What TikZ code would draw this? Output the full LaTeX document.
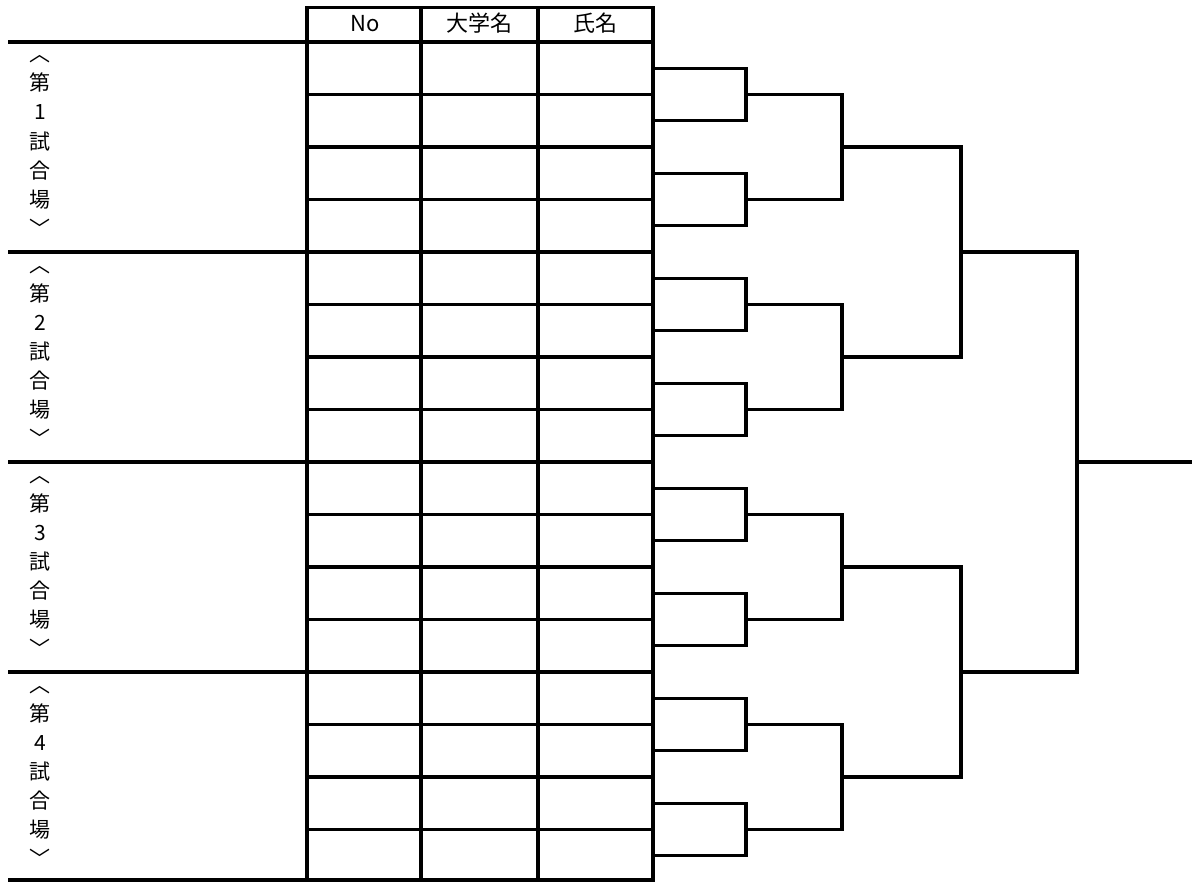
\documentclass[tikz,border=0pt]{standalone}
\usepackage{fontspec}
\setmainfont{Noto Sans CJK JP}
\begin{document}
\begin{tikzpicture}[x=1pt,y=-1pt,
  gridline/.style={line width=3.2pt,line cap=rect},
  groupline/.style={line width=4.5pt},
  bracket/.style={line width=3.2pt,line cap=rect,line join=miter},
  hdr/.style={font=\fontsize{22}{22}\selectfont,inner sep=0pt,anchor=base},
  lbl/.style={font=\fontsize{21}{21}\selectfont,inner sep=0pt,text height=0.8em,text depth=0.2em}]
\useasboundingbox (0,0) rectangle (1192,883);
% table grid
\draw[gridline] (307,7.5) -- (653,7.5);
\foreach \x in {307,421,538,653} \draw[gridline] (\x,7.5) -- (\x,880);
\foreach \g in {0,...,3} \foreach \i in {1,2,3}
  \draw[gridline] (307,{42+210*\g+52.5*\i}) -- (653,{42+210*\g+52.5*\i});
\foreach \y in {42,252,462,672,880} \draw[groupline] (8,\y) -- (655,\y);
% header
\node[hdr] (hNo)   at (365,31.5)   {No};
\node[hdr] (hUni)  at (479.5,31.5) {大学名};
\node[hdr] (hName) at (595.5,31.5) {氏名};
% side labels
\foreach \g/\d in {0/1,1/2,2/3,3/4}
  \foreach \c [count=\k from 0] in {︿,第,\d,試,合,場,﹀}
    \node[lbl] (L\g-\k) at (40,{42+210*\g+104+(\k-3)*29}) {\c};
% entry coordinates (row centres at table edge)
\foreach \g in {0,...,3} \foreach \i in {0,...,3}
  \coordinate (e\g\i) at (653,{42+210*\g+52.5*\i+26.25});
% junctions
\foreach \g in {0,...,3}{
  \coordinate (a\g0) at (746,{42+210*\g+52.5});
  \coordinate (a\g1) at (746,{42+210*\g+157.5});
  \coordinate (b\g) at (842,{42+210*\g+105});
}
\coordinate (c0) at (961,252);
\coordinate (c1) at (961,672);
\coordinate (d) at (1077,462);
\coordinate (fin) at (1192,462);
% bracket
\foreach \g in {0,...,3}{
  \draw[bracket] (e\g0) -| (a\g0) |- (e\g1);
  \draw[bracket] (e\g2) -| (a\g1) |- (e\g3);
  \draw[bracket] (a\g0) -| (b\g) |- (a\g1);
}
\draw[bracket] (b0) -| (c0) |- (b1);
\draw[bracket] (b2) -| (c1) |- (b3);
\draw[bracket] (c0) -| (d) |- (c1);
\draw[bracket] (d) -- (fin);
\end{tikzpicture}
\end{document}
